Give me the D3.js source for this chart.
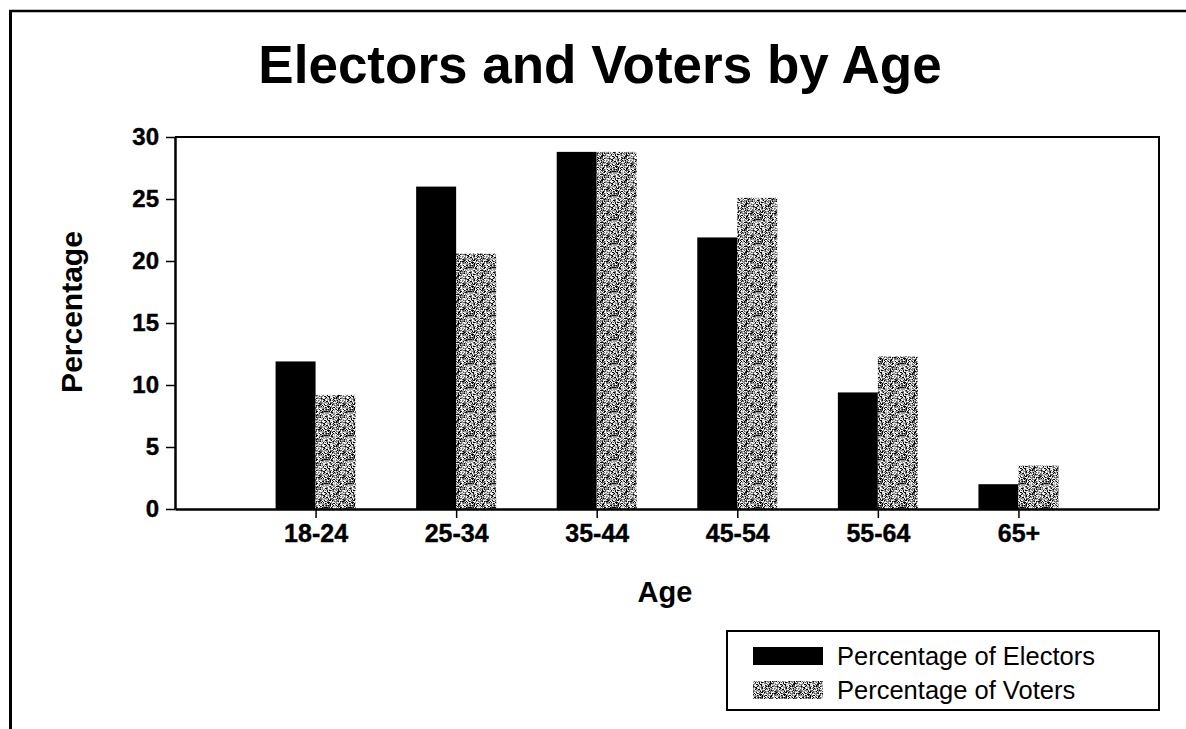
<!DOCTYPE html>
<html>
<head>
<meta charset="utf-8">
<script src="https://cdn.jsdelivr.net/npm/d3@7"></script>
<style>
  html, body { margin: 0; padding: 0; background: #fff; }
  svg { display: block; font-family: "Liberation Sans", Arial, sans-serif; }
</style>
</head>
<body>
<svg id="chart" width="1186" height="729"></svg>
<script>
// Age bands and the share (%) of electors and of voters in each band
const categories = ["18-24", "25-34", "35-44", "45-54", "55-64", "65+"];
const electors = [11.9, 26.0, 28.8, 21.9, 9.4, 2.0];
const voters = [9.2, 20.6, 28.8, 25.1, 12.3, 3.5];
const yTicks = [0, 5, 10, 15, 20, 25, 30];
const seriesNames = ["Percentage of Electors", "Percentage of Voters"];

const svg = d3.select("#chart");
const W = 1186, H = 729;
const plot = { left: 175, top: 137, right: 1159, bottom: 509 };
const FONT = "'Liberation Sans', Arial, sans-serif";

// Stippled grey fill for the voters series (fixed hash-based texture)
const defs = svg.append("defs");
const P = 24;
const tones = ["#000", "#5e5e5e", "#9c9c9c", "#d8d8d8", "#fff"];
const pat = defs.append("pattern")
  .attr("id", "dither")
  .attr("patternUnits", "userSpaceOnUse")
  .attr("width", P).attr("height", P);
pat.append("rect").attr("width", P).attr("height", P).attr("fill", tones[2]);
function hash(i, j) {
  let h = (i * 374761393 + j * 668265263) | 0;
  h = Math.imul(h ^ (h >>> 13), 1274126177);
  return ((h ^ (h >>> 16)) >>> 0) / 4294967295;
}
for (let r = 0; r < P; r++) {
  for (let c = 0; c < P; c++) {
    const v = hash(c + 7, r + 3);
    const t = v < 0.18 ? 0 : v < 0.38 ? 1 : v < 0.62 ? 2 : v < 0.8 ? 3 : 4;
    if (t === 2) continue;
    pat.append("rect").attr("x", c).attr("y", r)
      .attr("width", 1).attr("height", 1).attr("fill", tones[t]);
  }
}

// Outer page frame (top and left edges)
svg.append("line").attr("x1", 9).attr("y1", 11).attr("x2", W).attr("y2", 11)
  .attr("stroke", "#000").attr("stroke-width", 2.5);
svg.append("line").attr("x1", 10.5).attr("y1", 10).attr("x2", 10.5).attr("y2", H)
  .attr("stroke", "#000").attr("stroke-width", 3);

// Title
svg.append("text")
  .attr("x", 600).attr("y", 83)
  .attr("text-anchor", "middle")
  .attr("font-size", 53).attr("font-weight", "bold")
  .text("Electors and Voters by Age");

// Scales
const x = d3.scalePoint().domain(categories)
  .range([plot.left, plot.right]).padding(1);
const y = d3.scaleLinear().domain([0, 30]).range([plot.bottom, plot.top]);
const barW = 40;

// Bars: electors to the left of each tick, voters to the right
const g = svg.append("g");
g.selectAll("rect.electors").data(categories).join("rect")
  .attr("class", "electors")
  .attr("x", d => x(d) - barW)
  .attr("y", (d, i) => y(electors[i]))
  .attr("width", barW)
  .attr("height", (d, i) => y(0) - y(electors[i]))
  .attr("fill", "#000");
g.selectAll("rect.voters").data(categories).join("rect")
  .attr("class", "voters")
  .attr("x", d => x(d))
  .attr("y", (d, i) => y(voters[i]))
  .attr("width", barW)
  .attr("height", (d, i) => y(0) - y(voters[i]))
  .attr("fill", "url(#dither)");

// Plot frame: top and right edges
svg.append("path")
  .attr("d", `M${plot.left},${plot.top}H${plot.right}V${plot.bottom}`)
  .attr("fill", "none").attr("stroke", "#000").attr("stroke-width", 2);

// Y axis
const yAxis = svg.append("g")
  .attr("transform", `translate(${plot.left},0)`)
  .call(d3.axisLeft(y).tickValues(yTicks).tickSize(9).tickPadding(7).tickSizeOuter(0));
yAxis.select(".domain").attr("stroke-width", 2.5);
yAxis.selectAll(".tick line").attr("stroke-width", 1.5);
yAxis.selectAll(".tick text")
  .attr("font-size", 24).attr("font-weight", "bold")
  .attr("font-family", FONT).attr("fill", "#000")
  .attr("stroke", "#000").attr("stroke-width", 0.4);

// X axis
const xAxis = svg.append("g")
  .attr("transform", `translate(0,${plot.bottom})`)
  .call(d3.axisBottom(x).tickSize(9).tickPadding(6).tickSizeOuter(0));
xAxis.select(".domain").attr("stroke-width", 2.5);
xAxis.selectAll(".tick line").attr("stroke-width", 1.5);
xAxis.selectAll(".tick text")
  .attr("font-size", 25).attr("font-weight", "bold")
  .attr("font-family", FONT).attr("fill", "#000")
  .attr("stroke", "#000").attr("stroke-width", 0.4);

// Axis titles
svg.append("text")
  .attr("x", 665).attr("y", 602)
  .attr("text-anchor", "middle")
  .attr("font-size", 29).attr("font-weight", "bold")
  .text("Age");
svg.append("text")
  .attr("transform", `translate(82,312) rotate(-90)`)
  .attr("text-anchor", "middle")
  .attr("font-size", 30).attr("font-weight", "bold")
  .text("Percentage");

// Legend
const legend = svg.append("g");
legend.append("rect")
  .attr("x", 727).attr("y", 631).attr("width", 432).attr("height", 79)
  .attr("fill", "#fff").attr("stroke", "#000").attr("stroke-width", 2);
const fills = ["#000", "url(#dither)"];
seriesNames.forEach((name, i) => {
  const rowY = 647 + i * 34;
  legend.append("rect")
    .attr("x", 753).attr("y", rowY).attr("width", 70).attr("height", 18)
    .attr("fill", fills[i]);
  legend.append("text")
    .attr("x", 837).attr("y", rowY + 18)
    .attr("font-size", 25.5)
    .text(name);
});
</script>
</body>
</html>
